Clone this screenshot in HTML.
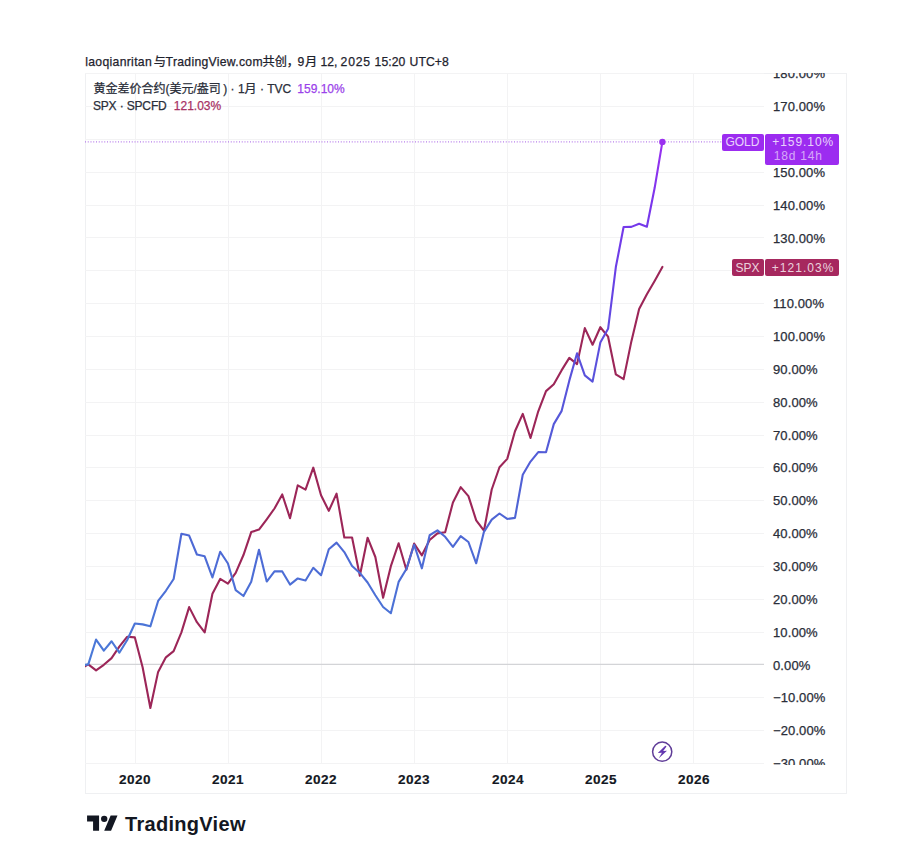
<!DOCTYPE html>
<html><head><meta charset="utf-8"><style>
*{box-sizing:border-box}
html,body{margin:0;padding:0;background:#fff}
body{width:900px;height:866px;overflow:hidden;position:relative;font-family:"Liberation Sans","Noto Sans CJK SC",sans-serif;color:#131722}
.hdr span{position:absolute;top:54.9px;font-size:12.2px;line-height:14px;white-space:nowrap;color:#1e222d;-webkit-text-stroke:0.25px #1e222d}
.frame{position:absolute;left:85px;top:73px;width:762px;height:721px;border:1px solid #eff0f2}
svg.ch{position:absolute;left:0;top:0}
.lg{position:absolute;font-size:12px;line-height:16px;white-space:nowrap;color:#2a2e39;-webkit-text-stroke:0.25px currentColor}
.lg.v1{color:#9a42ea}
.lg.v2{color:#a83266}
.pax{position:absolute;left:764px;top:73px;width:82px;height:691.5px;overflow:hidden}
.pl{position:absolute;left:9.4px;font-size:12.4px;line-height:16px;letter-spacing:0.1px;white-space:nowrap;color:#2a2e39;transform:scaleX(1.05);transform-origin:0 0;-webkit-text-stroke:0.25px #2a2e39}
.tl{position:absolute;top:771.85px;width:60px;text-align:center;font-size:12px;line-height:16px;letter-spacing:0.45px;font-weight:bold;color:#131722;transform:scaleX(1.13);-webkit-text-stroke:0.15px #131722}
.box{position:absolute;border-radius:2px}
.lab{position:absolute;color:rgba(255,255,255,0.8);font-size:12px;line-height:14px;white-space:nowrap}
.logo{position:absolute;left:87px;top:811.6px;width:31px;height:24px}
.logot{position:absolute;left:125px;top:811.7px;font-size:20px;font-weight:bold;line-height:24px;color:#131722;letter-spacing:0.3px}
</style></head><body>
<div class="hdr"><span style="left:85.2px;letter-spacing:0.32px">laoqianritan</span><span style="left:153.7px;letter-spacing:0px">与</span><span style="left:165.6px;letter-spacing:0.3px">TradingView.com</span><span style="left:262.5px;letter-spacing:0px">共创，</span><span style="left:297.4px;letter-spacing:0.8px">9月 </span><span style="left:320.5px;letter-spacing:0px">12, </span><span style="left:340.6px;letter-spacing:0.8px">2025 </span><span style="left:374.5px;letter-spacing:0.1px">15:20 </span><span style="left:409.5px;letter-spacing:0.1px">UTC+8</span></div>
<div class="frame"></div>
<svg class="ch" width="900" height="866" viewBox="0 0 900 866">
<defs>
<clipPath id="pc"><rect x="85" y="73" width="679" height="690"/></clipPath>
<linearGradient id="gg" gradientUnits="userSpaceOnUse" x1="0" y1="664.4" x2="0" y2="141.9">
<stop offset="0" stop-color="#4a7ad8"/>
<stop offset="0.3" stop-color="#4f64d4"/>
<stop offset="0.58" stop-color="#5a50dc"/>
<stop offset="0.75" stop-color="#6a40e6"/>
<stop offset="0.88" stop-color="#7a36ec"/>
<stop offset="1" stop-color="#9a30f0"/>
</linearGradient>
</defs>
<g stroke="#f3f3f4" stroke-width="1">
<line x1="85" x2="764" y1="763.5" y2="763.5"/><line x1="85" x2="764" y1="730.5" y2="730.5"/><line x1="85" x2="764" y1="697.5" y2="697.5"/><line x1="85" x2="764" y1="632.5" y2="632.5"/><line x1="85" x2="764" y1="599.5" y2="599.5"/><line x1="85" x2="764" y1="566.5" y2="566.5"/><line x1="85" x2="764" y1="533.5" y2="533.5"/><line x1="85" x2="764" y1="500.5" y2="500.5"/><line x1="85" x2="764" y1="467.5" y2="467.5"/><line x1="85" x2="764" y1="435.5" y2="435.5"/><line x1="85" x2="764" y1="402.5" y2="402.5"/><line x1="85" x2="764" y1="369.5" y2="369.5"/><line x1="85" x2="764" y1="336.5" y2="336.5"/><line x1="85" x2="764" y1="303.5" y2="303.5"/><line x1="85" x2="764" y1="270.5" y2="270.5"/><line x1="85" x2="764" y1="237.5" y2="237.5"/><line x1="85" x2="764" y1="205.5" y2="205.5"/><line x1="85" x2="764" y1="172.5" y2="172.5"/><line x1="85" x2="764" y1="139.5" y2="139.5"/><line x1="85" x2="764" y1="106.5" y2="106.5"/><line x1="85" x2="764" y1="73.5" y2="73.5"/>
<line x1="135.5" x2="135.5" y1="73" y2="763"/><line x1="228.5" x2="228.5" y1="73" y2="763"/><line x1="321.5" x2="321.5" y1="73" y2="763"/><line x1="414.5" x2="414.5" y1="73" y2="763"/><line x1="507.5" x2="507.5" y1="73" y2="763"/><line x1="600.5" x2="600.5" y1="73" y2="763"/><line x1="693.5" x2="693.5" y1="73" y2="763"/>
</g>
<line x1="85" x2="764" y1="664.40" y2="664.40" stroke="#d3d4d7" stroke-width="1.3"/>
<line x1="85" x2="722" y1="141.92" y2="141.92" stroke="#a65ee6" stroke-width="1" stroke-dasharray="1 1.75"/>
<g clip-path="url(#pc)" fill="none" stroke-width="2.1" stroke-linejoin="round" stroke-linecap="round">
<polyline stroke="#9c2658" points="80.54,668.66 88.30,664.40 96.06,670.34 103.82,664.80 111.57,658.10 119.33,646.70 127.09,636.81 134.85,637.39 142.61,667.28 150.36,708.01 158.12,671.89 165.88,657.36 173.64,651.19 181.40,632.36 189.15,607.11 196.91,622.24 204.67,632.49 212.43,593.74 220.19,578.93 227.94,583.54 235.70,572.86 243.46,555.04 251.22,532.09 258.98,529.56 266.73,519.27 274.49,508.50 282.25,494.46 290.01,518.16 297.77,485.35 305.52,489.57 313.28,467.63 321.04,495.24 328.80,510.85 336.56,493.61 344.31,537.51 352.07,537.49 359.83,575.70 367.59,537.69 375.35,557.01 383.10,597.71 390.86,566.16 398.62,543.22 406.38,569.74 414.14,543.61 421.89,555.34 429.65,540.01 437.41,533.38 445.17,532.24 452.93,502.42 460.68,487.15 468.44,496.11 476.20,520.31 483.96,530.70 491.72,489.49 499.47,467.23 507.23,458.87 514.99,431.26 522.75,413.84 530.51,437.93 538.26,411.29 546.02,391.12 553.78,384.31 561.54,370.42 569.30,357.85 577.05,364.13 584.81,328.11 592.57,344.72 600.33,327.21 608.09,336.69 615.84,374.45 623.60,379.16 631.36,341.41 639.12,309.09 646.88,294.28 654.63,280.96 662.39,266.94"/>
<polyline stroke="url(#gg)" points="80.54,665.42 88.30,664.40 96.06,639.56 103.82,650.67 111.57,641.26 119.33,652.71 127.09,640.31 134.85,623.55 142.61,624.37 150.36,626.34 158.12,600.99 165.88,590.77 173.64,579.01 181.40,533.70 189.15,535.59 196.91,554.48 204.67,556.27 212.43,577.43 220.19,551.71 227.94,563.51 235.70,590.14 243.46,596.02 251.22,581.78 258.98,549.74 266.73,581.52 274.49,571.32 282.25,571.41 290.01,584.59 297.77,578.43 305.52,580.52 313.28,567.79 321.04,575.23 328.80,549.25 336.56,542.65 344.31,552.06 352.07,565.91 359.83,572.95 367.59,582.50 375.35,595.25 383.10,606.96 390.86,613.24 398.62,581.89 406.38,569.00 414.14,544.74 421.89,568.32 429.65,535.24 437.41,530.43 445.17,536.77 452.93,546.86 460.68,536.21 468.44,542.00 476.20,563.28 483.96,531.85 491.72,519.65 499.47,513.49 507.23,518.93 514.99,517.84 522.75,474.69 530.51,461.58 538.26,452.06 546.02,452.24 553.78,424.11 561.54,411.14 569.30,380.66 577.05,353.29 584.81,375.40 592.57,381.67 600.33,342.60 608.09,328.82 615.84,267.04 623.60,227.06 631.36,226.90 639.12,223.69 646.88,226.76 654.63,188.08 662.39,141.92"/>
</g>
<circle cx="662.39" cy="141.92" r="3.2" fill="#9b30f0"/>
<circle cx="662.2" cy="751.7" r="9.6" fill="#fff" stroke="#603d98" stroke-width="1.5"/>
<path d="M665.0 745.9 Q665.9 745.7 666.5 746.6 L663.2 751.0 L667.0 750.8 L658.8 758.2 L661.9 752.8 L657.8 752.9 Z" fill="#6438b0"/>
</svg>
<div class="lg" style="left:93.4px;top:81.1px">黄金差价合约(美元/盎司<span style="margin-left:2.5px">) · 1月 · TVC </span></div>
<div class="lg v1" style="left:297.3px;top:81.1px">159.10%</div>
<div class="lg" style="left:92.9px;top:97.85px;letter-spacing:-0.15px">SPX · SPCFD </div>
<div class="lg v2" style="left:173.8px;top:97.85px">121.03%</div>
<div class="pax">
<div class="pl" style="top:683.02px">−30.00%</div><div class="pl" style="top:650.18px">−20.00%</div><div class="pl" style="top:617.34px">−10.00%</div><div class="pl" style="top:584.50px">0.00%</div><div class="pl" style="top:551.66px">10.00%</div><div class="pl" style="top:518.82px">20.00%</div><div class="pl" style="top:485.98px">30.00%</div><div class="pl" style="top:453.14px">40.00%</div><div class="pl" style="top:420.30px">50.00%</div><div class="pl" style="top:387.46px">60.00%</div><div class="pl" style="top:354.62px">70.00%</div><div class="pl" style="top:321.78px">80.00%</div><div class="pl" style="top:288.94px">90.00%</div><div class="pl" style="top:256.10px">100.00%</div><div class="pl" style="top:223.26px">110.00%</div><div class="pl" style="top:157.58px">130.00%</div><div class="pl" style="top:124.74px">140.00%</div><div class="pl" style="top:91.90px">150.00%</div><div class="pl" style="top:26.22px">170.00%</div><div class="pl" style="top:-6.62px">180.00%</div>
</div>
<div class="tl" style="left:105.15px">2020</div><div class="tl" style="left:198.24px">2021</div><div class="tl" style="left:291.34px">2022</div><div class="tl" style="left:384.44px">2023</div><div class="tl" style="left:477.53px">2024</div><div class="tl" style="left:570.63px">2025</div><div class="tl" style="left:663.72px">2026</div>
<div class="box" style="left:721.7px;top:133.5px;width:42.3px;height:17.2px;background:#9c2cf0"></div>
<div class="box" style="left:765px;top:133.5px;width:74.3px;height:31px;background:#9c2cf0"></div>
<div class="box" style="left:732px;top:258.8px;width:32px;height:17.2px;background:#a6285e"></div>
<div class="box" style="left:765px;top:258.8px;width:74.3px;height:17.2px;background:#a6285e"></div>
<div class="lab" style="left:725.4px;top:134.5px">GOLD</div>
<div class="lab" style="left:772.3px;top:134.5px;letter-spacing:0.93px">+159.10%</div>
<div class="lab" style="left:773.7px;top:149.2px;letter-spacing:0.83px;opacity:.75">18d 14h</div>
<div class="lab" style="left:735.6px;top:260.5px">SPX</div>
<div class="lab" style="left:771.7px;top:260.5px;letter-spacing:1.05px">+121.03%</div>
<svg class="logo" viewBox="0 0 36 28"><path d="M14 22H7V11H0V4h14v18zM28 22h-8l7.5-18h8L28 22z" fill="#131722"/><circle cx="20" cy="8" r="3.7" fill="#131722"/></svg>
<div class="logot">TradingView</div>
</body></html>
